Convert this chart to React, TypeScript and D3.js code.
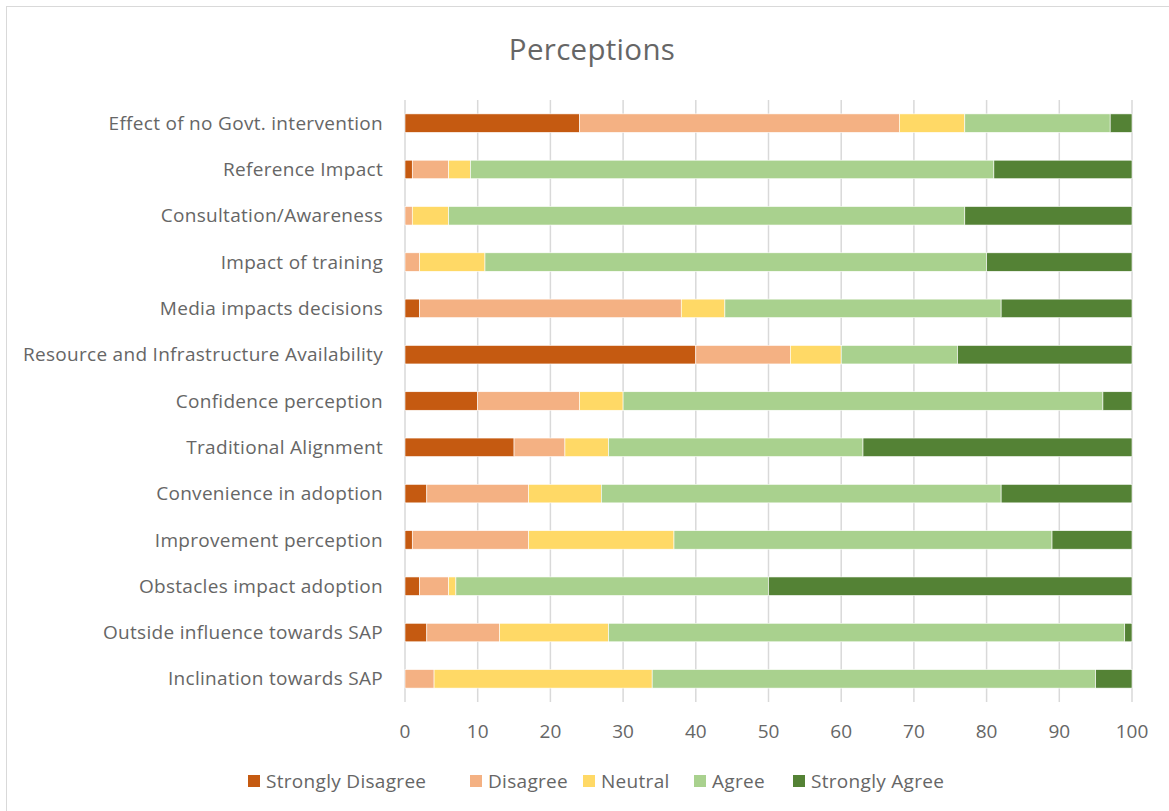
import React from "react";
import * as d3 from "d3";

const categories = [
  "Effect of no Govt. intervention",
  "Reference Impact",
  "Consultation/Awareness",
  "Impact of training",
  "Media impacts decisions",
  "Resource and Infrastructure Availability",
  "Confidence perception",
  "Traditional Alignment",
  "Convenience in adoption",
  "Improvement perception",
  "Obstacles impact adoption",
  "Outside influence towards SAP",
  "Inclination towards SAP",
];

const seriesNames = ["Strongly Disagree", "Disagree", "Neutral", "Agree", "Strongly Agree"];
const seriesColors = ["#C55A11", "#F4B183", "#FFD966", "#A9D18E", "#548235"];

const stronglyDisagree = [24, 1, 0, 0, 2, 40, 10, 15, 3, 1, 2, 3, 0];
const disagree = [44, 5, 1, 2, 36, 13, 14, 7, 14, 16, 4, 10, 4];
const neutral = [9, 3, 5, 9, 6, 7, 6, 6, 10, 20, 1, 15, 30];
const agree = [20, 72, 71, 69, 38, 16, 66, 35, 55, 52, 43, 71, 61];
const stronglyAgree = [3, 19, 23, 20, 18, 24, 4, 37, 18, 11, 50, 1, 5];

const xTicks = [0, 10, 20, 30, 40, 50, 60, 70, 80, 90, 100];

const W = 1169;
const H = 811;
const FONT = "'Open Sans', 'Noto Sans', sans-serif";
const TEXT = "#666666";
const FS = 19;
const LS = 0.3;

export default function App() {
  const margin = { left: 405, right: 37, top: 100, bottom: 109 };
  const x = d3.scaleLinear().domain([0, 100]).range([margin.left, W - margin.right]);
  const y = d3
    .scaleBand<string>()
    .domain(categories)
    .range([margin.top, H - margin.bottom])
    .paddingInner(0.6)
    .paddingOuter(0.3);

  const rows = categories.map((c, i) => ({
    cat: c,
    sd: stronglyDisagree[i],
    d: disagree[i],
    n: neutral[i],
    a: agree[i],
    sa: stronglyAgree[i],
  }));
  const keys = ["sd", "d", "n", "a", "sa"];
  const stacked = d3.stack<any>().keys(keys)(rows);

  const legendItems = [
    { x: 248, text: seriesNames[0] },
    { x: 470, text: seriesNames[1] },
    { x: 583, text: seriesNames[2] },
    { x: 694, text: seriesNames[3] },
    { x: 793, text: seriesNames[4] },
  ];

  return (
    <svg
      width={W}
      height={H}
      style={{ position: "absolute", left: 0, top: 0, background: "#fff" }}
      fontFamily={FONT}
    >
      <rect x={6.5} y={6.5} width={W + 10} height={H + 10} fill="#fff" stroke="#d9d9d9" strokeWidth={1} />
      <text x={592} y={60} textAnchor="middle" fontSize={29.5} fill={TEXT} letterSpacing={0.3}>
        Perceptions
      </text>
      {xTicks.map((t) => (
        <g key={t}>
          <line
            x1={x(t)}
            x2={x(t)}
            y1={margin.top}
            y2={H - margin.bottom}
            stroke="#d9d9d9"
            strokeWidth={1.5}
          />
          <text x={x(t)} y={738} textAnchor="middle" fontSize={FS} fill={TEXT}>
            {t}
          </text>
        </g>
      ))}
      {stacked.map((layer, li) => (
        <g key={li} fill={seriesColors[li]}>
          {layer.map((d: any, i: number) =>
            d[1] - d[0] > 0 ? (
              <rect
                key={i}
                x={x(d[0])}
                width={x(d[1]) - x(d[0])}
                y={y(d.data.cat)!}
                height={y.bandwidth()}
                stroke="#fff"
                strokeWidth={0.6}
              />
            ) : null
          )}
        </g>
      ))}
      {categories.map((c) => (
        <text
          key={c}
          x={383}
          y={y(c)! + y.bandwidth() / 2}
          dy="0.35em"
          textAnchor="end"
          fontSize={FS}
          letterSpacing={LS}
          fill={TEXT}
        >
          {c}
        </text>
      ))}
      {legendItems.map((l, i) => (
        <g key={i}>
          <rect x={l.x} y={775} width={12} height={12} fill={seriesColors[i]} />
          <text x={l.x + 18} y={781} dy="0.35em" fontSize={FS} letterSpacing={LS} fill={TEXT}>
            {l.text}
          </text>
        </g>
      ))}
    </svg>
  );
}
